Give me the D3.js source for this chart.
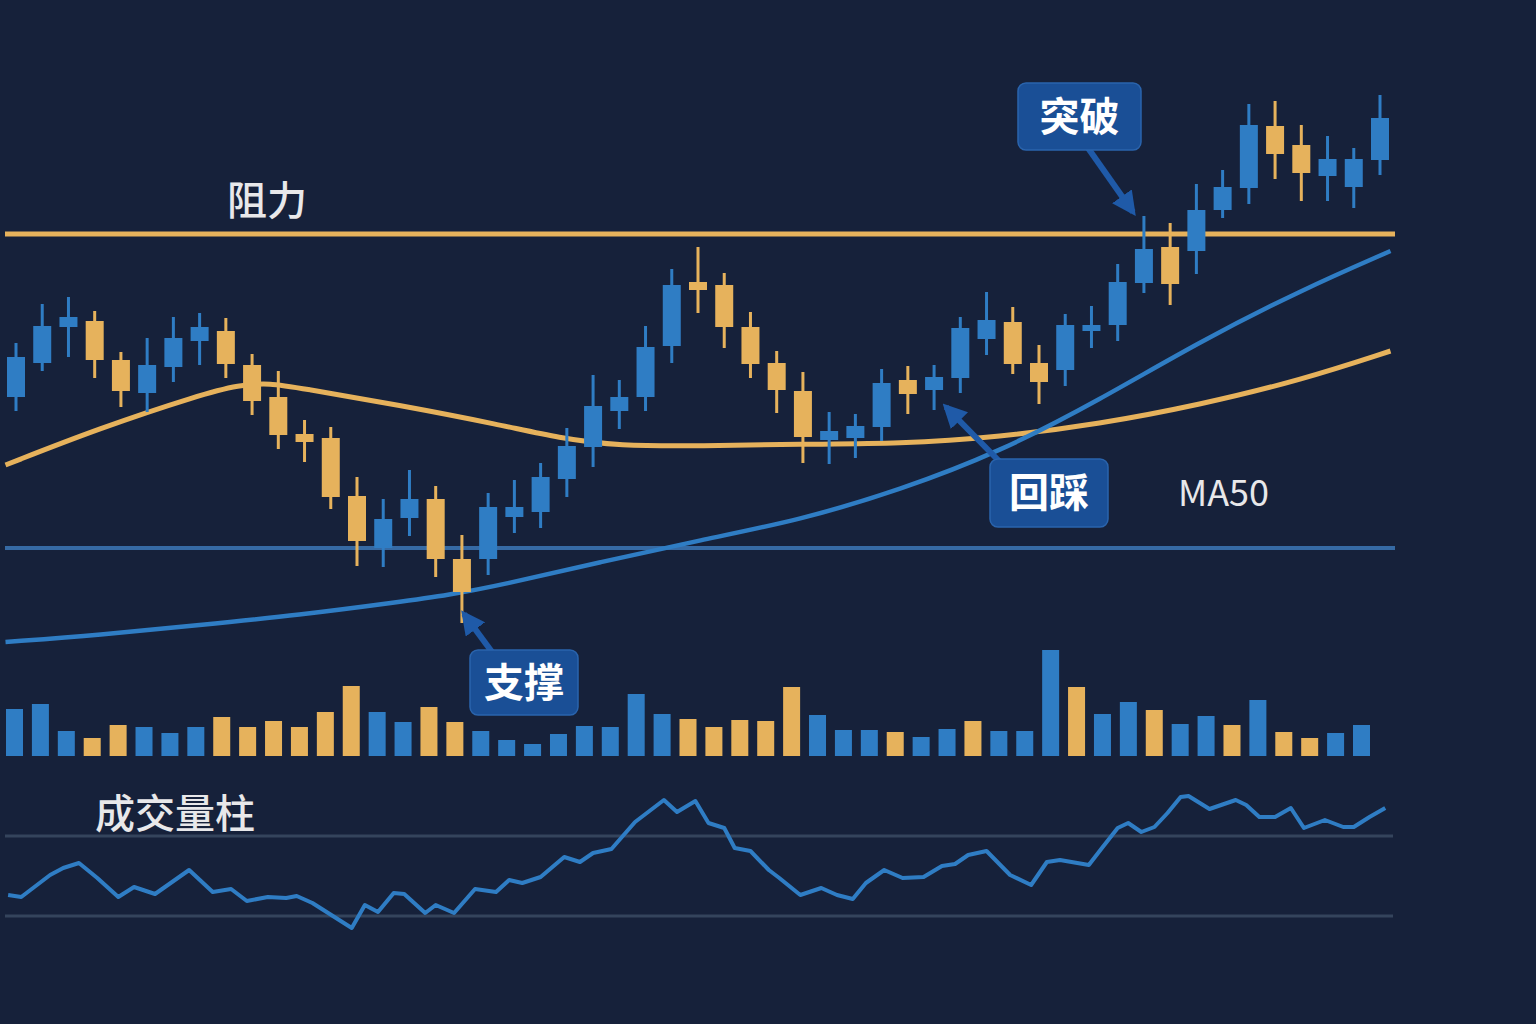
<!DOCTYPE html>
<html>
<head>
<meta charset="utf-8">
<script src="https://cdn.jsdelivr.net/npm/d3@7"></script>
<style>
body{margin:0;background:#16213a;}
svg{display:block;}
</style>
</head>
<body>
<div id="chart"></div>
<script>
// candle data: open, high, low, close
let opens  = [403,437,473,479,440,407,433,459,469,435,403,366,362,304,252,282,301,241,241,283,288,321,353,389,403,454,518,515,473,437,409,360,362,373,420,410,422,461,478,437,430,469,475,517,553,549,590,612,674,655,624,613,640]
let highs  = [457,496,503,489,448,462,483,487,482,446,429,380,373,323,301,330,314,265,307,320,337,372,425,420,474,531,553,527,488,449,428,388,386,431,434,435,483,508,493,455,486,494,536,584,577,616,630,696,699,675,664,652,705]
let lows   = [389,429,443,422,393,388,418,435,422,385,351,338,291,234,233,264,223,177,225,267,272,303,333,371,389,437,487,452,422,387,337,336,342,359,386,390,407,445,426,396,414,452,459,507,495,526,582,596,621,599,599,592,625]
let closes = [443,474,483,440,409,435,462,473,436,399,365,358,303,259,281,301,241,208,293,293,323,354,394,403,453,515,510,473,436,410,363,369,374,417,406,423,472,480,436,418,475,475,518,551,516,590,613,675,646,627,641,641,682]
let volumes = [47,52,25,18,31,29,23,29,39,29,35,29,44,70,44,34,49,34,25,16,12,22,30,29,62,42,37,29,36,35,69,41,26,26,24,19,27,35,25,25,106,69,42,54,46,32,40,31,56,24,18,23,31]
let volUp = "bbbgg bbbgg gggg bbgg bbbb bbbb ggggg bbbg bbgb bbgb bgbb gbgg bb".replace(/ /g,"").split("")
// moving averages [index, value]
let maGold = [[-0.4,335],[3.2,372],[7,405],[8.5,415],[9.7,417],[10.8,412],[14.6,395],[18.5,375],[20.7,362],[23,354],[26.1,354],[29.9,356],[33.7,356],[37.5,363],[41.3,376],[45.1,395],[49,420],[52.4,449]]
let maBlue = [[-0.4,158],[3.2,165],[7,175],[10.8,185],[14.6,198],[16.5,205],[18.5,215],[22.3,238],[26.1,260],[29.9,280],[33.7,310],[37.5,348],[41.3,400],[45.1,458],[49,510],[52.4,549]]
let resistance = 566, support = 252
// oscillator [index, value]
let osc = [[-0.3,105],[0.2,103],[1.3,125],[1.8,132],[2.4,137],[3.1,122],[3.9,103],[4.5,113],[5.3,106],[6.6,130],[7.5,108],[8.2,111],[8.8,99],[9.6,103],[10.3,102],[10.7,104],[11.3,97],[12.8,72],[13.3,95],[13.8,88],[14.4,107],[14.8,106],[15.6,87],[16,95],[16.7,87],[17.5,111],[18.3,108],[18.8,120],[19.3,117],[20,123],[20.9,143],[21.5,138],[22,147],[22.7,151],[23.6,178],[24.7,200],[25.2,188],[25.9,199],[26.4,177],[27,172],[27.4,152],[28,149],[28.7,130],[29.1,122],[29.9,105],[30.7,112],[31.3,105],[31.9,101],[32.4,117],[33.1,130],[33.8,122],[34.6,123],[35.3,134],[35.8,136],[36.3,145],[37,149],[37.9,125],[38.7,115],[39.3,138],[39.8,140],[40.9,135],[41.4,152],[42,172],[42.4,177],[42.9,168],[43.4,173],[43.9,187],[44.4,203],[44.7,204],[45.5,191],[46.5,200],[46.9,195],[47.4,183],[48,183],[48.6,192],[49.1,172],[49.9,180],[50.6,173],[51,173],[51.6,183],[52.2,192]]

let W=1536,H=1024
let blue="#2f7dc4", gold="#e6b25c", bg="#16213a", boxFill="#1a4f96"
let svg=d3.select("#chart").append("svg").attr("width",W).attr("height",H)
svg.append("rect").attr("width",W).attr("height",H).attr("fill",bg)

let x=d3.scaleLinear().domain([0,52]).range([16,1380])
let xv=d3.scaleLinear().domain([0,52]).range([14,1361])
let y=d3.scaleLinear().domain([0,800]).range([800,0])
let yv=d3.scaleLinear().domain([0,120]).range([756,636])
let yo=d3.scaleLinear().domain([84,164]).range([916,836])

// reference lines
svg.append("line").attr("x1",5).attr("x2",1395).attr("y1",y(resistance)).attr("y2",y(resistance))
  .attr("stroke",gold).attr("stroke-width",5)
svg.append("line").attr("x1",5).attr("x2",1395).attr("y1",y(support)).attr("y2",y(support))
  .attr("stroke","#3a72b0").attr("stroke-width",4).attr("opacity",0.9)

let line=d3.line().x(d=>x(d[0])).y(d=>y(d[1])).curve(d3.curveBasis)
svg.append("path").attr("d",line(maGold)).attr("fill","none").attr("stroke",gold).attr("stroke-width",5)
svg.append("path").attr("d",line(maBlue)).attr("fill","none").attr("stroke",blue).attr("stroke-width",4.5)

// candles
let candles=opens.map((o,i)=>({i:i,o:o,h:highs[i],l:lows[i],c:closes[i]}))
let cg=svg.append("g")
cg.selectAll(".wick").data(candles).enter().append("line")
  .attr("x1",d=>x(d.i)).attr("x2",d=>x(d.i)).attr("y1",d=>y(d.h)).attr("y2",d=>y(d.l))
  .attr("stroke",d=>d.c>=d.o?blue:gold).attr("stroke-width",3)
cg.selectAll(".body").data(candles).enter().append("rect")
  .attr("x",d=>x(d.i)-9).attr("width",18)
  .attr("y",d=>y(Math.max(d.o,d.c))).attr("height",d=>Math.max(4,Math.abs(y(d.o)-y(d.c))))
  .attr("fill",d=>d.c>=d.o?blue:gold)

// volume
svg.selectAll(".vol").data(volumes).enter().append("rect")
  .attr("x",(d,i)=>xv(i)-8).attr("width",17)
  .attr("y",d=>yv(d)).attr("height",d=>yv(0)-yv(d))
  .attr("fill",(d,i)=>volUp[i]=="b"?blue:gold)

// oscillator panel
;[164,84].forEach(v=>{
  svg.append("line").attr("x1",5).attr("x2",1393).attr("y1",yo(v)).attr("y2",yo(v))
    .attr("stroke","#34445c").attr("stroke-width",3)
})
let oline=d3.line().x(d=>x(d[0])).y(d=>yo(d[1]))
svg.append("path").attr("d",oline(osc)).attr("fill","none").attr("stroke",blue).attr("stroke-width",4)
  .attr("stroke-linejoin","round")

// labels
let font="'Noto Sans CJK SC', 'Noto Sans', sans-serif"
svg.append("text").attr("x",227).attr("y",215).text("阻力").attr("fill","#e8e8ea")
  .attr("font-family",font).attr("font-size",40).attr("font-weight",500)
svg.append("text").attr("x",1178).attr("y",506).text("MA50").attr("fill","#e8e8ea")
  .attr("font-family",font).attr("font-size",36)
svg.append("text").attr("x",95).attr("y",828).text("成交量柱").attr("fill","#e8e8ea")
  .attr("font-family",font).attr("font-size",40).attr("font-weight",500)

// annotation boxes with arrows
let defs=svg.append("defs")
defs.append("marker").attr("id","ah").attr("viewBox","0 0 10 10").attr("refX",8).attr("refY",5)
  .attr("markerWidth",4).attr("markerHeight",4).attr("orient","auto")
  .append("path").attr("d","M0,0L10,5L0,10Z").attr("fill","#1f5aa8")
function note(bx,by,bw,bh,txt,ax1,ay1,ax2,ay2){
  svg.append("line").attr("x1",ax1).attr("y1",ay1).attr("x2",ax2).attr("y2",ay2)
    .attr("stroke","#1f5aa8").attr("stroke-width",6).attr("marker-end","url(#ah)")
  svg.append("rect").attr("x",bx).attr("y",by).attr("width",bw).attr("height",bh).attr("rx",8)
    .attr("fill",boxFill).attr("stroke","#2a64ad").attr("stroke-width",1.5)
  svg.append("text").attr("x",bx+bw/2).attr("y",by+bh/2+14).attr("text-anchor","middle").text(txt)
    .attr("fill","#fff").attr("font-family",font).attr("font-size",40).attr("font-weight",700)
}
note(1018,83,123,67,"突破",1088,148,1133,212)
note(990,459,118,68,"回踩",1000,462,946,407)
note(470,650,108,65,"支撑",492,652,464,614)
</script>
</body>
</html>
